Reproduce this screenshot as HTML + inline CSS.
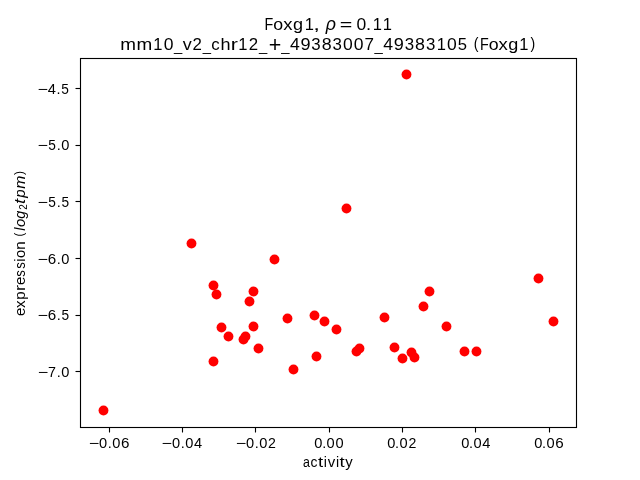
<!DOCTYPE html>
<html lang="en">
<head>
<meta charset="utf-8">
<title>Foxg1 activity vs expression</title>
<style>
html,body{margin:0;padding:0;background:#fff;}
body{width:640px;height:480px;overflow:hidden;font-family:"Liberation Sans",sans-serif;}
svg{display:block;will-change:transform;font-family:"Liberation Sans",sans-serif;}
text{fill:#000;}
.sp{fill:none;stroke:#000;stroke-width:1.11;}
.tk{stroke:#000;stroke-width:1.11;}
.pt circle{fill:#f00;}
</style>
</head>
<body>
<svg width="640" height="480" viewBox="0 0 640 480">
<rect width="640" height="480" fill="#fff"/>
<g class="pt">
<circle cx="103.5" cy="410.5" r="4.93"/><circle cx="191.5" cy="243.5" r="4.93"/><circle cx="213.5" cy="285.5" r="4.93"/><circle cx="216.5" cy="294.5" r="4.93"/><circle cx="213.5" cy="361.5" r="4.93"/><circle cx="221.5" cy="327.5" r="4.93"/><circle cx="228.5" cy="336.5" r="4.93"/><circle cx="243.5" cy="339.5" r="4.93"/><circle cx="245.5" cy="336.5" r="4.93"/><circle cx="249.5" cy="301.5" r="4.93"/><circle cx="253.5" cy="291.5" r="4.93"/><circle cx="253.5" cy="326.5" r="4.93"/><circle cx="258.5" cy="348.5" r="4.93"/><circle cx="274.5" cy="259.5" r="4.93"/><circle cx="287.5" cy="318.5" r="4.93"/><circle cx="293.5" cy="369.5" r="4.93"/><circle cx="314.5" cy="315.5" r="4.93"/><circle cx="316.5" cy="356.5" r="4.93"/><circle cx="324.5" cy="321.5" r="4.93"/><circle cx="336.5" cy="329.5" r="4.93"/><circle cx="346.5" cy="208.5" r="4.93"/><circle cx="356.5" cy="351.5" r="4.93"/><circle cx="359.5" cy="348.5" r="4.93"/><circle cx="384.5" cy="317.5" r="4.93"/><circle cx="394.5" cy="347.5" r="4.93"/><circle cx="402.5" cy="358.5" r="4.93"/><circle cx="411.5" cy="352.5" r="4.93"/><circle cx="414.5" cy="357.5" r="4.93"/><circle cx="406.5" cy="74.5" r="4.93"/><circle cx="423.5" cy="306.5" r="4.93"/><circle cx="429.5" cy="291.5" r="4.93"/><circle cx="446.5" cy="326.5" r="4.93"/><circle cx="464.5" cy="351.5" r="4.93"/><circle cx="476.5" cy="351.5" r="4.93"/><circle cx="538.5" cy="278.5" r="4.93"/><circle cx="553.5" cy="321.5" r="4.93"/>
</g>
<g class="tk">
<line x1="109.5" y1="427.5" x2="109.5" y2="432.5"/><line x1="182.5" y1="427.5" x2="182.5" y2="432.5"/><line x1="255.5" y1="427.5" x2="255.5" y2="432.5"/><line x1="329.5" y1="427.5" x2="329.5" y2="432.5"/><line x1="402.5" y1="427.5" x2="402.5" y2="432.5"/><line x1="475.5" y1="427.5" x2="475.5" y2="432.5"/><line x1="549.5" y1="427.5" x2="549.5" y2="432.5"/><line x1="80.5" y1="88.5" x2="75.5" y2="88.5"/><line x1="80.5" y1="145.5" x2="75.5" y2="145.5"/><line x1="80.5" y1="201.5" x2="75.5" y2="201.5"/><line x1="80.5" y1="258.5" x2="75.5" y2="258.5"/><line x1="80.5" y1="315.5" x2="75.5" y2="315.5"/><line x1="80.5" y1="371.5" x2="75.5" y2="371.5"/>
</g>
<rect class="sp" x="80.5" y="58.5" width="496" height="369"/>
<text font-size="17.2"><tspan x="264.47" y="30" textLength="8.75" lengthAdjust="spacingAndGlyphs">F</tspan><tspan x="273.15" y="30" textLength="9.86" lengthAdjust="spacingAndGlyphs">o</tspan><tspan x="283.31" y="30" textLength="9.28" lengthAdjust="spacingAndGlyphs">x</tspan><tspan x="293.13" y="30" textLength="10.05" lengthAdjust="spacingAndGlyphs">g</tspan><tspan x="304.63" y="30" textLength="9.19" lengthAdjust="spacingAndGlyphs">1</tspan><tspan x="313.22" y="30" textLength="6.72" lengthAdjust="spacingAndGlyphs">,</tspan><tspan x="319.02" y="30"> </tspan><tspan x="325.72" y="30" textLength="10.22" lengthAdjust="spacingAndGlyphs" font-style="italic" font-size="18">ρ</tspan><tspan x="335.6" y="30"> </tspan><tspan x="339.74" y="30" textLength="12.54" lengthAdjust="spacingAndGlyphs">=</tspan><tspan x="352.98" y="30"> </tspan><tspan x="356.46" y="30" textLength="9.74" lengthAdjust="spacingAndGlyphs">0</tspan><tspan x="366.09" y="30" textLength="5.11" lengthAdjust="spacingAndGlyphs">.</tspan><tspan x="372.63" y="30" textLength="9.19" lengthAdjust="spacingAndGlyphs">1</tspan><tspan x="382.63" y="30" textLength="9.19" lengthAdjust="spacingAndGlyphs">1</tspan></text>
<text font-size="17.2"><tspan x="120.38" y="50" textLength="15.75" lengthAdjust="spacingAndGlyphs">m</tspan><tspan x="136.63" y="50" textLength="15.75" lengthAdjust="spacingAndGlyphs">m</tspan><tspan x="153.25" y="50" textLength="9.19" lengthAdjust="spacingAndGlyphs">1</tspan><tspan x="163.7" y="50" textLength="9.74" lengthAdjust="spacingAndGlyphs">0</tspan><tspan x="173.98" y="51" textLength="8.23" lengthAdjust="spacingAndGlyphs" font-size="15">_</tspan><tspan x="182.7" y="50" textLength="9" lengthAdjust="spacingAndGlyphs">v</tspan><tspan x="192.54" y="50" textLength="9.38" lengthAdjust="spacingAndGlyphs">2</tspan><tspan x="202.86" y="51" textLength="8.23" lengthAdjust="spacingAndGlyphs" font-size="15">_</tspan><tspan x="211.29" y="50" textLength="8.41" lengthAdjust="spacingAndGlyphs">c</tspan><tspan x="220.51" y="50" textLength="10.05" lengthAdjust="spacingAndGlyphs">h</tspan><tspan x="230.83" y="50" textLength="7.16" lengthAdjust="spacingAndGlyphs">r</tspan><tspan x="238.25" y="50" textLength="9.19" lengthAdjust="spacingAndGlyphs">1</tspan><tspan x="248.66" y="50" textLength="9.38" lengthAdjust="spacingAndGlyphs">2</tspan><tspan x="258.98" y="51" textLength="8.23" lengthAdjust="spacingAndGlyphs" font-size="15">_</tspan><tspan x="268.68" y="52" textLength="12.54" lengthAdjust="spacingAndGlyphs" font-size="21.4">+</tspan><tspan x="281.23" y="51" textLength="8.23" lengthAdjust="spacingAndGlyphs" font-size="15">_</tspan><tspan x="289.98" y="50" textLength="9.8" lengthAdjust="spacingAndGlyphs">4</tspan><tspan x="300.41" y="50" textLength="10.08" lengthAdjust="spacingAndGlyphs">9</tspan><tspan x="311.37" y="50" textLength="9.38" lengthAdjust="spacingAndGlyphs">3</tspan><tspan x="321.73" y="50" textLength="9.93" lengthAdjust="spacingAndGlyphs">8</tspan><tspan x="332.62" y="50" textLength="9.38" lengthAdjust="spacingAndGlyphs">3</tspan><tspan x="343.07" y="50" textLength="9.74" lengthAdjust="spacingAndGlyphs">0</tspan><tspan x="353.7" y="50" textLength="9.74" lengthAdjust="spacingAndGlyphs">0</tspan><tspan x="364.38" y="50" textLength="9.48" lengthAdjust="spacingAndGlyphs">7</tspan><tspan x="374.61" y="51" textLength="8.23" lengthAdjust="spacingAndGlyphs" font-size="15">_</tspan><tspan x="383.35" y="50" textLength="9.8" lengthAdjust="spacingAndGlyphs">4</tspan><tspan x="393.78" y="50" textLength="10.08" lengthAdjust="spacingAndGlyphs">9</tspan><tspan x="404.74" y="50" textLength="9.38" lengthAdjust="spacingAndGlyphs">3</tspan><tspan x="415.11" y="50" textLength="9.93" lengthAdjust="spacingAndGlyphs">8</tspan><tspan x="425.99" y="50" textLength="9.38" lengthAdjust="spacingAndGlyphs">3</tspan><tspan x="436.63" y="50" textLength="9.19" lengthAdjust="spacingAndGlyphs">1</tspan><tspan x="447.07" y="50" textLength="9.74" lengthAdjust="spacingAndGlyphs">0</tspan><tspan x="457.84" y="50" textLength="9.24" lengthAdjust="spacingAndGlyphs">5</tspan><tspan x="467.88" y="50"> </tspan><tspan x="473.63" y="49" textLength="4.71" lengthAdjust="spacingAndGlyphs">(</tspan><tspan x="480.08" y="50" textLength="8.75" lengthAdjust="spacingAndGlyphs">F</tspan><tspan x="488.76" y="50" textLength="9.86" lengthAdjust="spacingAndGlyphs">o</tspan><tspan x="498.55" y="50" textLength="9.28" lengthAdjust="spacingAndGlyphs">x</tspan><tspan x="508.25" y="50" textLength="10.05" lengthAdjust="spacingAndGlyphs">g</tspan><tspan x="519.25" y="50" textLength="9.19" lengthAdjust="spacingAndGlyphs">1</tspan><tspan x="530.55" y="49" textLength="4.71" lengthAdjust="spacingAndGlyphs">)</tspan></text>
<text font-size="15.4"><tspan x="303.08" y="467" textLength="6.9" lengthAdjust="spacingAndGlyphs">a</tspan><tspan x="310.52" y="467" textLength="6.96" lengthAdjust="spacingAndGlyphs">c</tspan><tspan x="318.08" y="467" textLength="5.17" lengthAdjust="spacingAndGlyphs">t</tspan><tspan x="323.78" y="467" textLength="3.16" lengthAdjust="spacingAndGlyphs">i</tspan><tspan x="327.68" y="467" textLength="7.48" lengthAdjust="spacingAndGlyphs">v</tspan><tspan x="335.91" y="467" textLength="3.16" lengthAdjust="spacingAndGlyphs">i</tspan><tspan x="339.58" y="467" textLength="5.17" lengthAdjust="spacingAndGlyphs">t</tspan><tspan x="345.32" y="467" textLength="7.44" lengthAdjust="spacingAndGlyphs">y</tspan></text>
<text font-size="15.4" transform="translate(25 316.1) rotate(-90)"><tspan x="0.12" y="0" textLength="8.3" lengthAdjust="spacingAndGlyphs">e</tspan><tspan x="8.2" y="0" textLength="7.71" lengthAdjust="spacingAndGlyphs">x</tspan><tspan x="16.28" y="0" textLength="8.35" lengthAdjust="spacingAndGlyphs">p</tspan><tspan x="25.05" y="0" textLength="5.99" lengthAdjust="spacingAndGlyphs">r</tspan><tspan x="31.12" y="0" textLength="8.3" lengthAdjust="spacingAndGlyphs">e</tspan><tspan x="39.38" y="0" textLength="6.59" lengthAdjust="spacingAndGlyphs">s</tspan><tspan x="47.38" y="0" textLength="6.59" lengthAdjust="spacingAndGlyphs">s</tspan><tspan x="54.3" y="0" textLength="3.16" lengthAdjust="spacingAndGlyphs">i</tspan><tspan x="58.13" y="0" textLength="8.25" lengthAdjust="spacingAndGlyphs">o</tspan><tspan x="66.25" y="0" textLength="8.35" lengthAdjust="spacingAndGlyphs">n</tspan><tspan x="75" y="0"> </tspan><tspan x="79.52" y="-2" textLength="3.92" lengthAdjust="spacingAndGlyphs" font-size="12.9">(</tspan><tspan x="85.27" y="0" textLength="3.24" lengthAdjust="spacingAndGlyphs" font-style="italic">l</tspan><tspan x="89.14" y="0" textLength="8.2" lengthAdjust="spacingAndGlyphs" font-style="italic">o</tspan><tspan x="97.41" y="0" textLength="7.97" lengthAdjust="spacingAndGlyphs" font-style="italic">g</tspan><tspan x="106.25" y="2" textLength="5.55" lengthAdjust="spacingAndGlyphs" font-size="10">2</tspan><tspan x="112" y="0" textLength="5.17" lengthAdjust="spacingAndGlyphs" font-style="italic">t</tspan><tspan x="118.37" y="0" textLength="8.36" lengthAdjust="spacingAndGlyphs" font-style="italic">p</tspan><tspan x="127.24" y="0" textLength="13.12" lengthAdjust="spacingAndGlyphs" font-style="italic">m</tspan><tspan x="141.06" y="-2" textLength="3.92" lengthAdjust="spacingAndGlyphs" font-size="12.9">)</tspan></text>
<text font-size="15.4"><tspan x="88.66" y="448" textLength="10.37" lengthAdjust="spacingAndGlyphs" font-size="14">−</tspan><tspan x="98.96" y="448" textLength="8.14" lengthAdjust="spacingAndGlyphs">0</tspan><tspan x="107.72" y="448" textLength="4.01" lengthAdjust="spacingAndGlyphs">.</tspan><tspan x="112.21" y="448" textLength="8.14" lengthAdjust="spacingAndGlyphs">0</tspan><tspan x="120.89" y="448" textLength="8.44" lengthAdjust="spacingAndGlyphs">6</tspan></text>
<text font-size="15.4"><tspan x="161.58" y="448" textLength="10.37" lengthAdjust="spacingAndGlyphs" font-size="14">−</tspan><tspan x="171.88" y="448" textLength="8.14" lengthAdjust="spacingAndGlyphs">0</tspan><tspan x="180.64" y="448" textLength="4.01" lengthAdjust="spacingAndGlyphs">.</tspan><tspan x="185.13" y="448" textLength="8.14" lengthAdjust="spacingAndGlyphs">0</tspan><tspan x="194" y="448" textLength="8.14" lengthAdjust="spacingAndGlyphs">4</tspan></text>
<text font-size="15.4"><tspan x="235.66" y="448" textLength="10.37" lengthAdjust="spacingAndGlyphs" font-size="14">−</tspan><tspan x="245.96" y="448" textLength="8.14" lengthAdjust="spacingAndGlyphs">0</tspan><tspan x="254.72" y="448" textLength="4.01" lengthAdjust="spacingAndGlyphs">.</tspan><tspan x="259.21" y="448" textLength="8.14" lengthAdjust="spacingAndGlyphs">0</tspan><tspan x="268.08" y="448" textLength="7.86" lengthAdjust="spacingAndGlyphs">2</tspan></text>
<text font-size="15.4"><tspan x="314.37" y="448" textLength="8.14" lengthAdjust="spacingAndGlyphs">0</tspan><tspan x="322.13" y="448" textLength="4.01" lengthAdjust="spacingAndGlyphs">.</tspan><tspan x="326.62" y="448" textLength="8.14" lengthAdjust="spacingAndGlyphs">0</tspan><tspan x="335.5" y="448" textLength="8.14" lengthAdjust="spacingAndGlyphs">0</tspan></text>
<text font-size="15.4"><tspan x="387.35" y="448" textLength="8.14" lengthAdjust="spacingAndGlyphs">0</tspan><tspan x="395.11" y="448" textLength="4.01" lengthAdjust="spacingAndGlyphs">.</tspan><tspan x="399.6" y="448" textLength="8.14" lengthAdjust="spacingAndGlyphs">0</tspan><tspan x="408.46" y="448" textLength="7.86" lengthAdjust="spacingAndGlyphs">2</tspan></text>
<text font-size="15.4"><tspan x="461.19" y="448" textLength="8.14" lengthAdjust="spacingAndGlyphs">0</tspan><tspan x="468.94" y="448" textLength="4.01" lengthAdjust="spacingAndGlyphs">.</tspan><tspan x="473.44" y="448" textLength="8.14" lengthAdjust="spacingAndGlyphs">0</tspan><tspan x="482.3" y="448" textLength="8.14" lengthAdjust="spacingAndGlyphs">4</tspan></text>
<text font-size="15.4"><tspan x="534.26" y="448" textLength="8.14" lengthAdjust="spacingAndGlyphs">0</tspan><tspan x="542.01" y="448" textLength="4.01" lengthAdjust="spacingAndGlyphs">.</tspan><tspan x="546.51" y="448" textLength="8.14" lengthAdjust="spacingAndGlyphs">0</tspan><tspan x="555.19" y="448" textLength="8.44" lengthAdjust="spacingAndGlyphs">6</tspan></text>
<text font-size="15.4"><tspan x="37.54" y="94" textLength="10.37" lengthAdjust="spacingAndGlyphs" font-size="14">−</tspan><tspan x="47.83" y="94" textLength="8.14" lengthAdjust="spacingAndGlyphs">4</tspan><tspan x="56.59" y="94" textLength="4.01" lengthAdjust="spacingAndGlyphs">.</tspan><tspan x="61.36" y="94" textLength="7.62" lengthAdjust="spacingAndGlyphs">5</tspan></text>
<text font-size="15.4"><tspan x="37.62" y="150" textLength="10.37" lengthAdjust="spacingAndGlyphs" font-size="14">−</tspan><tspan x="48.2" y="150" textLength="7.62" lengthAdjust="spacingAndGlyphs">5</tspan><tspan x="56.68" y="150" textLength="4.01" lengthAdjust="spacingAndGlyphs">.</tspan><tspan x="61.18" y="150" textLength="8.14" lengthAdjust="spacingAndGlyphs">0</tspan></text>
<text font-size="15.4"><tspan x="37.58" y="207" textLength="10.37" lengthAdjust="spacingAndGlyphs" font-size="14">−</tspan><tspan x="48.16" y="207" textLength="7.62" lengthAdjust="spacingAndGlyphs">5</tspan><tspan x="56.64" y="207" textLength="4.01" lengthAdjust="spacingAndGlyphs">.</tspan><tspan x="61.41" y="207" textLength="7.62" lengthAdjust="spacingAndGlyphs">5</tspan></text>
<text font-size="15.4"><tspan x="37.64" y="264" textLength="10.37" lengthAdjust="spacingAndGlyphs" font-size="14">−</tspan><tspan x="47.75" y="264" textLength="8.44" lengthAdjust="spacingAndGlyphs">6</tspan><tspan x="56.7" y="264" textLength="4.01" lengthAdjust="spacingAndGlyphs">.</tspan><tspan x="61.19" y="264" textLength="8.14" lengthAdjust="spacingAndGlyphs">0</tspan></text>
<text font-size="15.4"><tspan x="37.6" y="320" textLength="10.37" lengthAdjust="spacingAndGlyphs" font-size="14">−</tspan><tspan x="47.7" y="320" textLength="8.44" lengthAdjust="spacingAndGlyphs">6</tspan><tspan x="56.66" y="320" textLength="4.01" lengthAdjust="spacingAndGlyphs">.</tspan><tspan x="61.42" y="320" textLength="7.62" lengthAdjust="spacingAndGlyphs">5</tspan></text>
<text font-size="15.4"><tspan x="37.67" y="377" textLength="10.37" lengthAdjust="spacingAndGlyphs" font-size="14">−</tspan><tspan x="48.06" y="377" textLength="7.95" lengthAdjust="spacingAndGlyphs">7</tspan><tspan x="56.73" y="377" textLength="4.01" lengthAdjust="spacingAndGlyphs">.</tspan><tspan x="61.22" y="377" textLength="8.14" lengthAdjust="spacingAndGlyphs">0</tspan></text>
</svg>
</body>
</html>
